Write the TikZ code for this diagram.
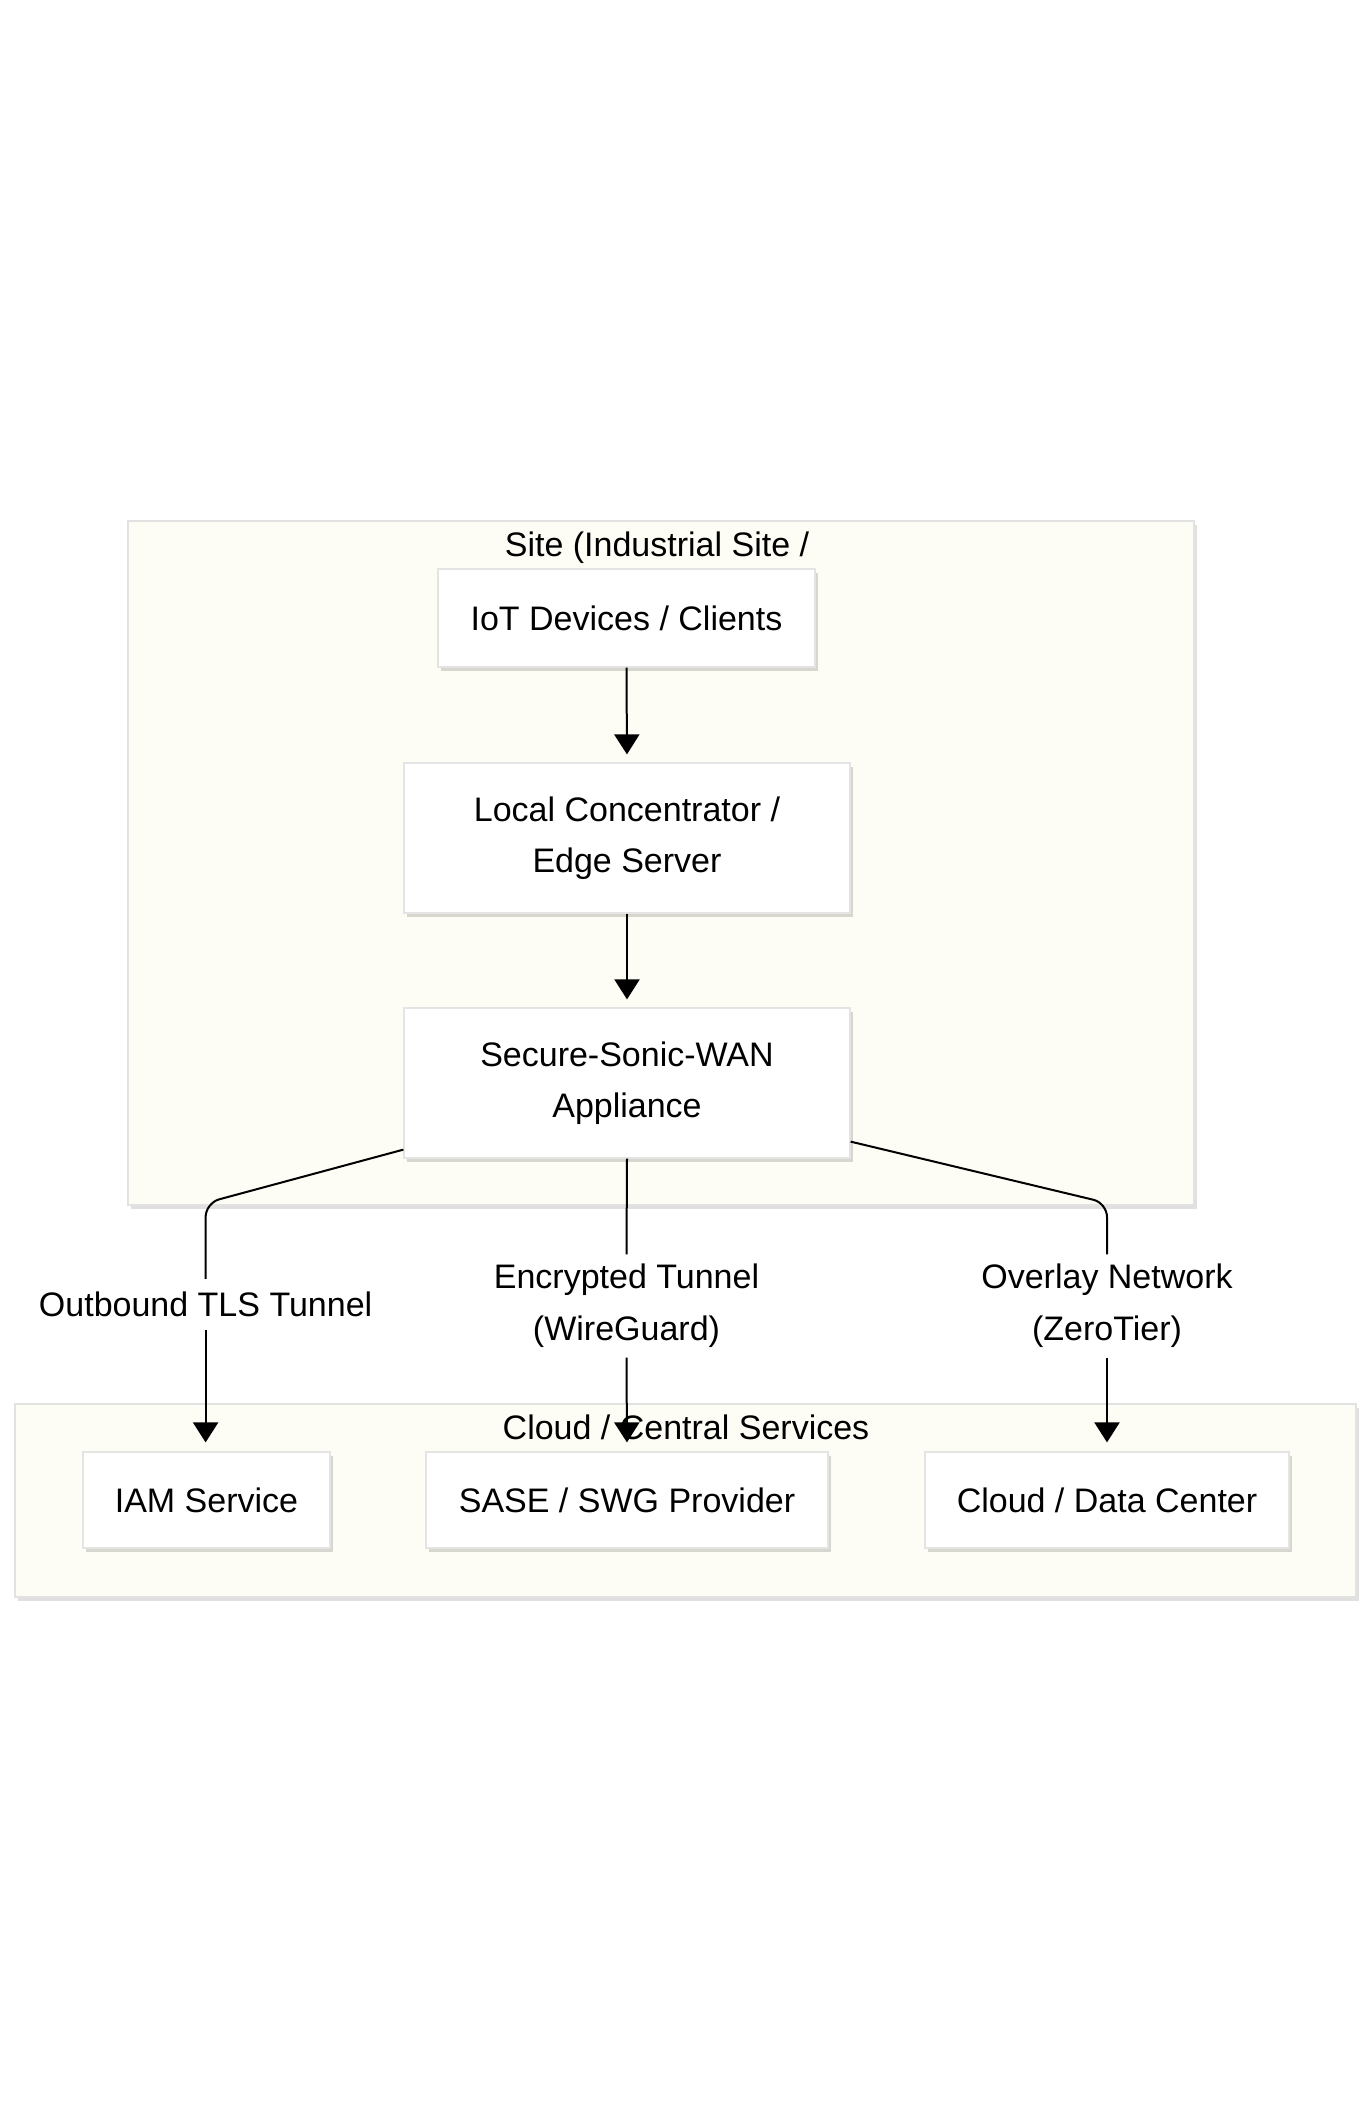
\documentclass[tikz,border=0pt]{standalone}
\usepackage{fontspec}
\setmainfont{Liberation Sans}
\usetikzlibrary{calc,shadows,arrows.meta}
\definecolor{clfill}{HTML}{FDFDF5}
\definecolor{clline}{HTML}{E2E2E2}
\definecolor{bxline}{HTML}{E4E4E4}
\tikzset{
  cluster/.style={draw=clline, line width=1.5pt, fill=clfill,
    drop shadow={shadow xshift=3pt, shadow yshift=-4pt, fill=black, opacity=0.12}},
  box/.style={draw=bxline, line width=1.2pt, fill=white, inner sep=0pt, align=center,
    font=\fontsize{34}{51}\selectfont,
    drop shadow={shadow xshift=3pt, shadow yshift=-4pt, fill=black, opacity=0.15}},
  ttl/.style={inner sep=0pt, anchor=base, font=\fontsize{34}{51}\selectfont},
  lbl/.style={inner sep=0pt, align=center, font=\fontsize{34}{52}\selectfont},
  conn/.style={line width=2pt, draw=black},
  arr/.style={conn, -{Triangle[length=20pt, width=25pt]}},
}
\begin{document}
\begin{tikzpicture}[x=1pt, y=-1pt]
\useasboundingbox (0,0) rectangle (1372,2120);
\fill[white] (0,0) rectangle (1372,2120);
% clusters
\path[cluster] (128,521) rectangle (1194,1205);
\path[cluster] (15,1404) rectangle (1356,1597);
\node[ttl] (sitet) at (657,556) {Site (Industrial Site /};
% site nodes
\node[box, minimum width=377pt, minimum height=98pt] (iot) at (626.5,618) {IoT Devices / Clients};
\node[box, minimum width=446pt, minimum height=150pt] (loc) at (627,838) {Local Concentrator /\\Edge Server};
\node[box, minimum width=446pt, minimum height=150pt] (app) at (627,1083) {Secure-Sonic-WAN\\Appliance};
% cloud nodes
\node[box, minimum width=247pt, minimum height=96pt] (iam) at (206.5,1500) {IAM Service};
\node[box, minimum width=402pt, minimum height=96pt] (sase) at (627,1500) {SASE / SWG Provider};
\node[box, minimum width=364pt, minimum height=96pt] (cdc) at (1107,1500) {Cloud / Data Center};
\node[ttl] (cloudt) at (686,1439) {Cloud / Central Services};
% labels
\node[lbl, minimum height=51pt] (l1) at (205.6,1304.5) {Outbound TLS Tunnel};
\node[lbl, minimum height=103pt] (l2) at (626.5,1306) {Encrypted Tunnel\\(WireGuard)};
\node[lbl, minimum height=103pt] (l3) at (1107,1306) {Overlay Network\\(ZeroTier)};
% connectors
\draw[arr, shorten >=8pt] (iot.south) -- (loc.north);
\draw[arr, shorten >=8pt] (loc.south) -- (app.north);
\coordinate (c1) at (205.6,1203);
\coordinate (c3) at (1107,1203);
\draw[conn, rounded corners=14pt] ($(app.south west)+(0,-9)$) -- (c1) -- (l1.north);
\draw[arr, shorten >=9pt] (l1.south) -- (l1.south |- iam.north);
\draw[conn] (app.south) -- (l2.north);
\draw[arr, shorten >=9pt] (l2.south) -- (sase.north);
\draw[conn, rounded corners=14pt] ($(app.south east)+(0,-17)$) -- (c3) -- (l3.north);
\draw[arr, shorten >=9pt] (l3.south) -- (cdc.north);
\end{tikzpicture}
\end{document}
